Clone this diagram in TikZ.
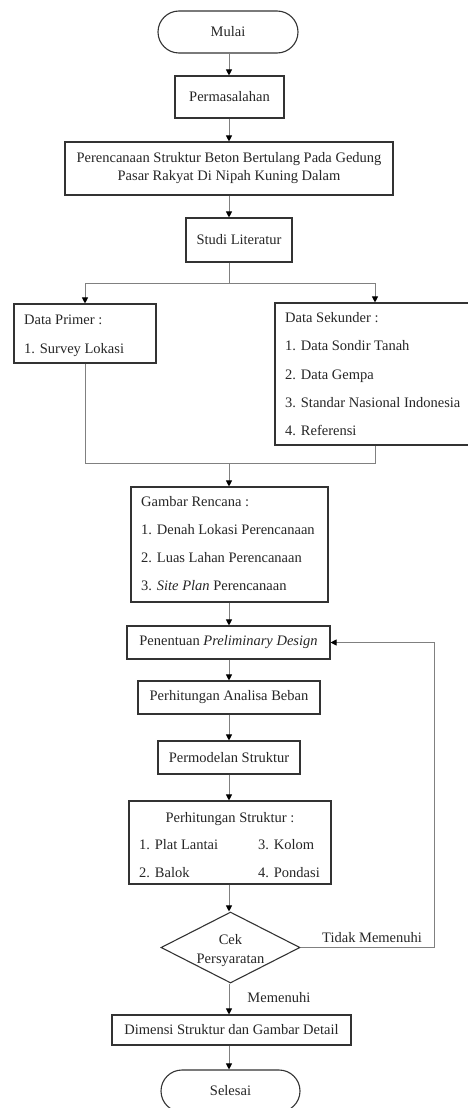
\documentclass[tikz,border=0pt]{standalone}
\usepackage{fontspec}
\setmainfont{Liberation Serif}
\usetikzlibrary{shapes.geometric,arrows.meta}
\begin{document}
\begin{tikzpicture}[x=1pt,y=-1pt,
  every node/.style={font=\fontsize{14.5}{19}\selectfont, text=black!85},
  box/.style={draw=black!80, line width=1.1pt, rectangle, inner sep=0pt},
  term/.style={box, rounded corners=21pt},
  chkbox/.style={draw=black!80, line width=1.1pt, diamond, aspect=2, inner sep=0pt, align=center},
  conn/.style={draw=black!50, line width=0.9pt},
  arr/.style={conn, -{Triangle[length=6pt,width=6pt,color=black]}},
  txt/.style={anchor=base west, inner sep=0pt}
]
\useasboundingbox (0,0) rectangle (468,1108);
\fill[white] (0,0) rectangle (468,1108);
\clip (0,0) rectangle (468,1108);
\coordinate (axis) at (229,0);

% boxes
\node[term, minimum width=140pt, minimum height=42pt] (mulai) at (228,32) {Mulai};
\node[box, minimum width=109pt, minimum height=42pt] (perm) at (229.5,97) {Permasalahan};
\node[box, minimum width=328pt, minimum height=53pt, align=center] (peren) at (229,168.5)
  {Perencanaan Struktur Beton Bertulang Pada Gedung\\[-1pt]Pasar Rakyat Di Nipah Kuning Dalam};
\node[box, minimum width=106pt, minimum height=44pt] (studi) at (239,240) {Studi Literatur};

\node[box, minimum width=142pt, minimum height=59pt] (dp) at (85,333.5) {};
\node[txt] (dp1) at (24,324) {Data Primer :};
\node[txt] (dp2) at (24,353) {1. Survey Lokasi};

\node[box, minimum width=200pt, minimum height=142pt] (ds) at (375,374) {};
\node[txt] (ds1) at (285,322) {Data Sekunder :};
\node[txt] (ds2) at (285,350) {1. Data Sondir Tanah};
\node[txt] (ds3) at (285,379) {2. Data Gempa};
\node[txt] (ds4) at (285,407) {3. Standar Nasional Indonesia};
\node[txt] (ds5) at (285,435) {4. Referensi};

\node[box, minimum width=197pt, minimum height=115pt] (gam) at (229.5,544.5) {};
\node[txt] (g1) at (141,506) {Gambar Rencana :};
\node[txt] (g2) at (141,534) {1. Denah Lokasi Perencanaan};
\node[txt] (g3) at (141,562) {2. Luas Lahan Perencanaan};
\node[txt] (g4) at (141,590) {3. \textit{Site Plan} Perencanaan};

\node[box, minimum width=203pt, minimum height=33pt] (pen) at (228.5,642.5) {Penentuan \textit{Preliminary Design}};
\node[box, minimum width=182pt, minimum height=33pt] (ana) at (229,697.5) {Perhitungan Analisa Beban};
\node[box, minimum width=142pt, minimum height=33pt] (mod) at (229,757.5) {Permodelan Struktur};

\node[box, minimum width=202pt, minimum height=83pt] (ps) at (230,842.5) {};
\node[anchor=base, inner sep=0pt] (ps0) at (230,822) {Perhitungan Struktur :};
\node[txt] (ps1) at (139,849) {1. Plat Lantai};
\node[txt] (ps3) at (258,849) {3. Kolom};
\node[txt] (ps2) at (139,877) {2. Balok};
\node[txt] (ps4) at (258,877) {4. Pondasi};

\node[chkbox, minimum width=139pt, minimum height=71pt] (chk) at (230.5,947.5) {};
\node[anchor=base, inner sep=0pt] (chk1) at (230.5,944) {Cek};
\node[anchor=base, inner sep=0pt] (chk2) at (230.5,963) {Persyaratan};

\node[box, minimum width=239pt, minimum height=30pt] (dim) at (231.5,1030) {Dimensi Struktur dan Gambar Detail};
\node[term, minimum width=139pt, minimum height=42pt] (sel) at (230.5,1091) {Selesai};

% connectors
\draw[arr] (axis |- mulai.south) -- (axis |- perm.north);
\draw[arr] (axis |- perm.south) -- (axis |- peren.north);
\draw[arr] (axis |- peren.south) -- (axis |- studi.north);

\coordinate (split) at (229,283);
\draw[conn] (axis |- studi.south) -- (split);
\draw[arr] (split) -| (dp.north);
\draw[arr] (split) -| (ds.north);

\coordinate (merge) at (229,463);
\draw[conn] (dp.south) -- (dp.south |- merge) -- (ds.south |- merge) -- (ds.south);
\draw[arr] (merge) -- (axis |- gam.north);

\draw[arr] (axis |- gam.south) -- (axis |- pen.north);
\draw[arr] (axis |- pen.south) -- (axis |- ana.north);
\draw[arr] (axis |- ana.south) -- (axis |- mod.north);
\draw[arr] (axis |- mod.south) -- (axis |- ps.north);
\draw[arr] (axis |- ps.south) -- (axis |- chk.north);
\draw[arr] (axis |- chk.south) -- node[pos=0.45, anchor=west, inner sep=0pt, xshift=18pt] (mem) {Memenuhi} (axis |- dim.north);
\draw[arr] (axis |- dim.south) -- (axis |- sel.north);

\coordinate (fbx) at (434,0);
\draw[arr] (chk.east) -- (chk.east -| fbx) |- (pen.east);
\node[txt] (tidak) at (322,942) {Tidak Memenuhi};
\end{tikzpicture}
\end{document}
